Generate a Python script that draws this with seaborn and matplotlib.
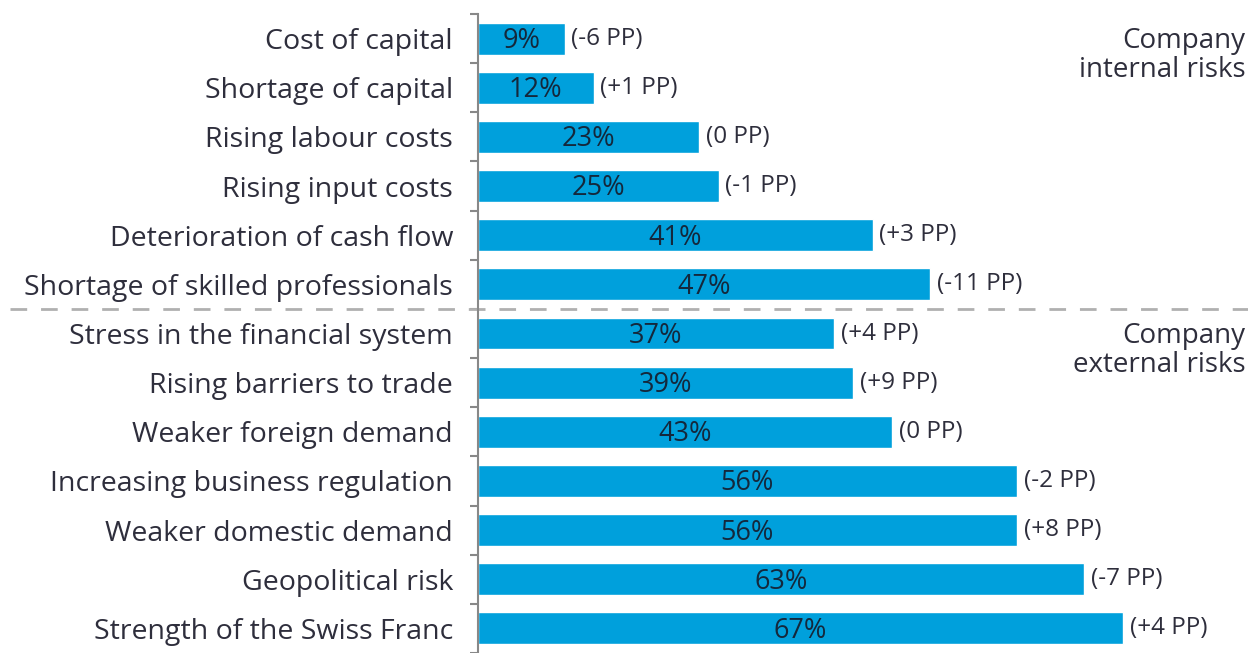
import pandas as pd
import matplotlib.pyplot as plt
import seaborn as sns

# data
risks = [
    "Cost of capital",
    "Shortage of capital",
    "Rising labour costs",
    "Rising input costs",
    "Deterioration of cash flow",
    "Shortage of skilled professionals",
    "Stress in the financial system",
    "Rising barriers to trade",
    "Weaker foreign demand",
    "Increasing business regulation",
    "Weaker domestic demand",
    "Geopolitical risk",
    "Strength of the Swiss Franc",
]
shares = [9, 12, 23, 25, 41, 47, 37, 39, 43, 56, 56, 63, 67]
changes = ["-6", "+1", "0", "-1", "+3", "-11", "+4", "+9", "0", "-2", "+8", "-7", "+4"]

df = pd.DataFrame({"risk": risks, "share": shares, "change": changes})

sns.set_style("white")
plt.rcParams["font.family"] = ["Open Sans", "DejaVu Sans"]
txt = "#2e2e3c"

fig = plt.figure(figsize=(12.48, 6.53), dpi=100)
ax = fig.add_axes([478 / 1248, 0, 770 / 1248, 1 - 14 / 653])

sns.barplot(data=df, y="risk", x="share", orient="h", color="#00a0dc",
            saturation=1, width=0.65, ax=ax)

ax.set_xlim(0, 80)
ax.set_ylim(12.435, -0.5)
ax.set_xlabel("")
ax.set_ylabel("")
ax.set_xticks([])

# labels on the left, ticks between categories
ax.set_yticks(range(len(risks)))
ax.set_yticklabels(risks, fontsize=20.5, color=txt)
ax.tick_params(axis="y", which="major", left=False, length=0, pad=18)
ax.set_yticks([i - 0.5 for i in range(len(risks) + 1)], minor=True)
ax.tick_params(axis="y", which="minor", left=True, length=6, width=1.5,
               color="#888888")

for s in ["top", "right", "bottom"]:
    ax.spines[s].set_visible(False)
ax.spines["left"].set_color("#888888")
ax.spines["left"].set_linewidth(1.5)

# value labels and changes
for i, row in df.iterrows():
    ax.text(row["share"] / 2, i + 0.05, f"{row['share']}%", ha="center",
            va="center", fontsize=19.5, color="#14283c")
    ax.text(row["share"] + 0.7, i, f"({row['change']} PP)", ha="left",
            va="center", fontsize=17.5, color=txt)

# separator between internal and external risks
ax.plot([-468 / 770, 1], [5.5, 5.5], transform=ax.get_yaxis_transform(),
        color="#b0b0b0", lw=2, ls=(0, (6, 5)), clip_on=False)

ax.text(0.997, 0.35, "Company\ninternal risks", transform=ax.get_yaxis_transform(),
        ha="right", va="center", fontsize=20, color=txt, linespacing=1.05)
ax.text(0.997, 6.35, "Company\nexternal risks", transform=ax.get_yaxis_transform(),
        ha="right", va="center", fontsize=20, color=txt, linespacing=1.05)

plt.savefig("out.png", dpi=100)
